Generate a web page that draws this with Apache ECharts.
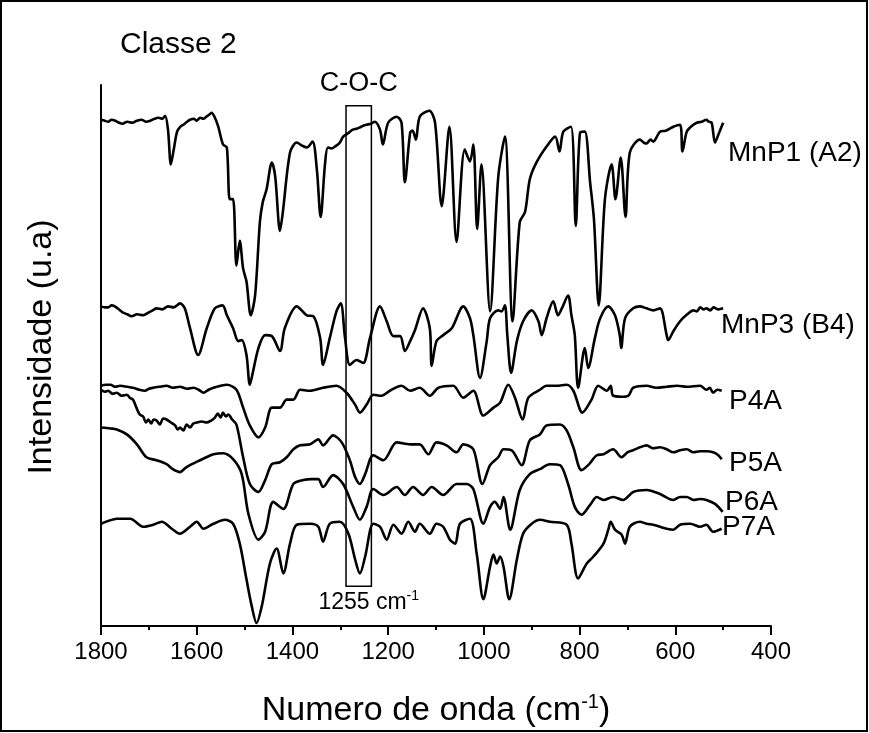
<!DOCTYPE html>
<html>
<head>
<meta charset="utf-8">
<script src="https://cdn.jsdelivr.net/npm/echarts@6/dist/echarts.min.js"></script>
<style>
  html, body { margin: 0; padding: 0; background: #fff; }
  #chart { width: 869px; height: 733px; }
</style>
</head>
<body>
<div id="chart"></div>
<script>
// FTIR spectra, Classe 2 — [wavenumber (cm-1), intensity (a.u., offset stacked)]
const mnp1 = [[1800,510],[1792,509],[1785,508],[1778,510],[1770,509],[1762,507],[1755,506],[1745,508],[1735,507],[1725,509],[1715,510],[1706,508],[1697,509],[1688,511],[1680,512],[1672,511],[1666,514],[1660,500],[1654,465],[1648,480],[1641,498],[1634,503],[1628,505],[1620,508],[1614,510],[1606,511],[1600,509],[1593,512],[1586,511],[1580,513],[1574,515],[1569,517],[1562,512],[1555,503],[1545,485],[1537,482],[1531,430],[1524,430],[1517,363],[1510,388],[1503,360],[1496,347],[1487,313],[1478,333],[1468,407],[1462,427],[1454,440],[1443,467],[1436,453],[1426,398],[1420,417],[1405,477],[1391,487],[1380,484],[1370,482],[1358,488],[1349,460],[1341,412],[1332,465],[1326,482],[1318,481],[1311,483],[1301,487],[1294,493],[1285,496],[1274,500],[1266,501],[1260,502],[1252,504],[1245,505],[1236,506],[1228,508],[1217,500],[1211,485],[1200,507],[1182,513],[1172,507],[1165,447],[1154,497],[1149,499],[1142,490],[1134,513],[1114,519],[1102,507],[1088,423],[1072,503],[1057,387],[1040,480],[1029,468],[1022,485],[1014,400],[1005,465],[987,317],[970,452],[956,493],[940,307],[925,407],[914,417],[904,450],[890,467],[869,483],[851,493],[842,478],[834,498],[818,503],[808,403],[799,497],[789,498],[778,447],[770,410],[760,323],[747,430],[733,465],[725,430],[714,472],[704,412],[695,477],[674,490],[666,487],[660,486],[652,490],[646,488],[632,498],[620,499],[604,503],[590,505],[585,478],[576,498],[565,504],[555,507],[545,508],[535,510],[530,508],[524,507],[517,487],[510,495],[500,507]];

const mnp3 = [[1800,322],[1792,321],[1785,321],[1778,323],[1771,322],[1763,319],[1755,316],[1745,314],[1736,312],[1725,314],[1712,313],[1700,316],[1692,318],[1684,320],[1672,319],[1660,322],[1648,321],[1635,325],[1625,320],[1614,300],[1597,273],[1579,300],[1562,320],[1546,323],[1537,313],[1524,300],[1513,287],[1506,288],[1496,273],[1489,243],[1482,257],[1471,280],[1457,293],[1443,292],[1426,277],[1416,300],[1391,322],[1370,313],[1356,312],[1342,290],[1336,263],[1322,290],[1308,317],[1299,325],[1290,290],[1280,263],[1266,268],[1252,265],[1238,290],[1217,322],[1203,307],[1189,292],[1175,292],[1165,277],[1154,287],[1144,298],[1127,320],[1113,300],[1109,262],[1099,287],[1085,293],[1067,300],[1043,322],[1029,310],[1022,293],[1008,250],[994,287],[987,310],[970,318],[963,317],[956,323],[951,293],[943,255],[931,287],[918,307],[900,318],[886,307],[879,293],[869,310],[855,327],[845,313],[837,320],[824,333],[817,313],[810,293],[803,240],[789,280],[782,260],[768,290],[757,310],[740,322],[726,313],[716,293],[713,280],[705,310],[688,320],[674,322],[660,320],[646,318],[632,320],[618,293],[615,288],[604,297],[590,307],[575,314],[562,318],[555,317],[548,321],[541,319],[535,320],[527,318],[520,321],[510,319],[500,320]];

const p4a = [[1800,242],[1790,243],[1780,243],[1770,241],[1760,242],[1745,241],[1733,240],[1720,238],[1708,237],[1700,239],[1691,240],[1678,241],[1663,242],[1650,240],[1635,241],[1620,239],[1607,240],[1596,238],[1586,235],[1575,238],[1565,240],[1550,242],[1537,243],[1517,238],[1503,220],[1489,202],[1471,190],[1457,200],[1443,220],[1426,220],[1412,228],[1398,228],[1384,238],[1363,237],[1336,240],[1308,242],[1287,235],[1269,223],[1259,215],[1245,223],[1231,233],[1214,232],[1193,238],[1172,242],[1154,237],[1134,240],[1113,232],[1095,240],[1064,242],[1043,230],[1022,237],[1001,212],[980,220],[966,225],[949,243],[935,230],[919,208],[907,230],[883,238],[869,242],[848,242],[827,243],[813,237],[794,215],[775,228],[761,242],[743,237],[735,242],[730,232],[712,231],[698,232],[688,240],[660,242],[640,240],[618,241],[596,242],[576,241],[548,242],[535,238],[528,240],[521,235],[512,238],[503,237]];

const p5a = [[1800,238],[1792,236],[1785,237],[1776,234],[1767,235],[1757,232],[1746,233],[1740,230],[1733,228],[1726,220],[1719,213],[1712,211],[1706,205],[1701,208],[1695,204],[1690,208],[1684,207],[1677,203],[1670,209],[1663,208],[1654,205],[1645,202],[1640,198],[1635,200],[1628,197],[1621,203],[1614,200],[1607,204],[1600,205],[1590,206],[1579,205],[1570,207],[1562,210],[1556,214],[1550,210],[1545,215],[1539,211],[1534,213],[1526,208],[1517,203],[1503,170],[1489,143],[1471,135],[1457,147],[1443,163],[1426,165],[1412,170],[1398,178],[1384,182],[1363,183],[1346,188],[1336,182],[1315,192],[1297,185],[1280,167],[1269,150],[1259,143],[1248,153],[1231,172],[1210,167],[1182,185],[1154,183],[1134,183],[1116,173],[1099,185],[1078,182],[1057,175],[1043,183],[1022,178],[1003,143],[987,162],[970,170],[959,178],[942,177],[921,162],[904,187],[883,193],[869,202],[841,203],[827,197],[813,180],[796,157],[782,162],[764,172],[750,173],[730,178],[712,170],[700,175],[688,177],[674,180],[660,182],[646,179],[632,180],[618,178],[604,175],[590,177],[576,178],[562,175],[548,176],[535,176],[521,175],[510,172],[503,168]];

const p6a = [[1800,200],[1780,199],[1767,198],[1746,193],[1725,183],[1705,170],[1684,167],[1663,163],[1650,158],[1635,155],[1624,159],[1614,162],[1593,167],[1580,170],[1565,173],[1545,174],[1524,168],[1506,153],[1492,113],[1471,87],[1457,95],[1440,125],[1419,118],[1398,143],[1377,147],[1360,148],[1346,148],[1336,140],[1315,152],[1294,143],[1273,120],[1259,107],[1245,120],[1231,138],[1210,132],[1182,140],[1165,132],[1148,140],[1127,132],[1109,140],[1085,132],[1057,143],[1036,143],[1022,138],[1001,103],[987,120],[977,125],[966,118],[959,130],[945,97],[925,137],[904,153],[883,158],[862,163],[841,162],[824,143],[810,120],[796,112],[778,122],[764,130],[750,127],[730,130],[709,127],[688,135],[660,137],[632,133],[604,127],[590,130],[576,130],[562,127],[548,128],[535,127],[517,123],[501,115]];

const p7a = [[1800,103],[1784,106],[1767,108],[1739,108],[1712,100],[1691,102],[1673,105],[1652,98],[1635,93],[1614,100],[1600,105],[1586,98],[1565,103],[1541,107],[1524,103],[1510,83],[1496,47],[1485,20],[1475,3],[1464,20],[1447,63],[1433,78],[1419,53],[1405,83],[1391,102],[1363,103],[1346,100],[1336,85],[1322,103],[1301,105],[1283,93],[1269,67],[1259,53],[1248,70],[1231,103],[1217,100],[1203,87],[1189,102],[1172,93],[1158,105],[1144,95],[1134,103],[1113,93],[1099,103],[1085,100],[1071,87],[1060,83],[1050,103],[1029,108],[1015,73],[1001,27],[987,60],[980,72],[973,63],[966,70],[959,60],[947,27],[931,67],[918,93],[900,103],[883,107],[862,105],[827,102],[817,83],[803,48],[785,63],[771,70],[750,83],[740,97],[735,105],[726,97],[712,92],[705,83],[695,100],[674,105],[660,103],[646,102],[632,100],[618,98],[604,97],[590,102],[569,103],[548,100],[535,102],[521,95],[503,98]];

const seriesNames = ['MnP1 (A2)', 'MnP3 (B4)', 'P4A', 'P5A', 'P6A', 'P7A'];
const seriesData = [mnp1, mnp3, p4a, p5a, p6a, p7a];
const xTicks = [1800, 1600, 1400, 1200, 1000, 800, 600, 400];
// C-O-C band window (cm-1) and its vertical extent (a.u.)
const bandFrom = 1288, bandTo = 1235;
const bandLow = 40, bandHigh = 524;

const FONT = '"Liberation Sans", Arial, Helvetica, sans-serif';
const chart = echarts.init(document.getElementById('chart'), null, { renderer: 'canvas' });

const series = seriesData.map((d, i) => ({
  name: seriesNames[i],
  type: 'line',
  data: d,
  showSymbol: false,
  smooth: 0.3,
  silent: true,
  lineStyle: { color: '#000', width: 2.6 },
  z: 3
}));

series[0].markArea = {
  silent: true,
  data: [
    [
      { xAxis: bandFrom, yAxis: bandLow,
        itemStyle: { color: 'rgba(0,0,0,0)', borderColor: '#000', borderWidth: 1.5 },
        label: { show: true, position: 'top', distance: 8, formatter: 'C-O-C',
                 color: '#000', fontSize: 27, fontFamily: FONT } },
      { xAxis: bandTo, yAxis: bandHigh }
    ],
    [
      { xAxis: bandFrom, yAxis: bandLow,
        itemStyle: { color: 'rgba(0,0,0,0)', borderWidth: 0 },
        label: { show: true, position: 'bottom', distance: 3, offset: [10, 0],
                 formatter: '{a|1255 cm}{s|-1}',
                 rich: {
                   a: { fontSize: 23, fontFamily: FONT, color: '#000', lineHeight: 26 },
                   s: { fontSize: 14, fontFamily: FONT, color: '#000', verticalAlign: 'top', lineHeight: 14 }
                 } } },
      { xAxis: bandTo, yAxis: bandLow }
    ]
  ]
};

// series names beside the right ends of the traces
const labelPos = [[728, 153], [721, 325], [729, 401], [729, 463], [725, 502], [722, 527]];

chart.setOption({
  backgroundColor: '#fff',
  animation: false,
  grid: { left: 101, right: 98, top: 85, bottom: 103, containLabel: false },
  xAxis: {
    type: 'value',
    min: 400, max: 1800, interval: 200, inverse: true,
    name: '{a|Numero de onda (cm}{s|-1}{a|)}',
    nameLocation: 'middle', nameGap: 66,
    nameTextStyle: {
      rich: {
        a: { fontSize: 34, fontFamily: FONT, color: '#000', lineHeight: 38 },
        s: { fontSize: 20, fontFamily: FONT, color: '#000', verticalAlign: 'top', lineHeight: 20 }
      }
    },
    axisLine: { show: true, onZero: false, lineStyle: { color: '#000', width: 2 } },
    axisTick: { show: true, inside: false, length: 9, lineStyle: { color: '#000', width: 2 } },
    minorTick: { show: true, splitNumber: 2, length: 4, lineStyle: { color: '#000', width: 2 } },
    axisLabel: { show: true, margin: 14, color: '#000', fontSize: 24, fontFamily: FONT,
                 formatter: v => (xTicks.indexOf(v) >= 0 ? String(v) : '') },
    splitLine: { show: false }
  },
  yAxis: {
    type: 'value', min: 0, max: 545,
    axisLine: { show: true, onZero: false, lineStyle: { color: '#000', width: 2 } },
    axisTick: { show: false },
    axisLabel: { show: false },
    splitLine: { show: false }
  },
  series: series,
  graphic: [
    { type: 'rect', silent: true, shape: { x: 1, y: 1, width: 866, height: 730 },
      style: { fill: 'none', stroke: '#000', lineWidth: 2 } },
    { type: 'text', silent: true, x: 120, y: 45,
      style: { text: 'Classe 2', font: '30px ' + FONT, fill: '#000', textVerticalAlign: 'middle' } },
    { type: 'text', silent: true, x: 42, y: 347, rotation: Math.PI / 2,
      style: { text: 'Intensidade (u.a)', font: '34px ' + FONT, fill: '#000',
               textAlign: 'center', textVerticalAlign: 'middle' } }
  ].concat(seriesNames.map((n, i) => ({
    type: 'text', silent: true, x: labelPos[i][0], y: labelPos[i][1],
    style: { text: n, font: '28px ' + FONT, fill: '#000', textVerticalAlign: 'middle' }
  })))
});
</script>
</body>
</html>
